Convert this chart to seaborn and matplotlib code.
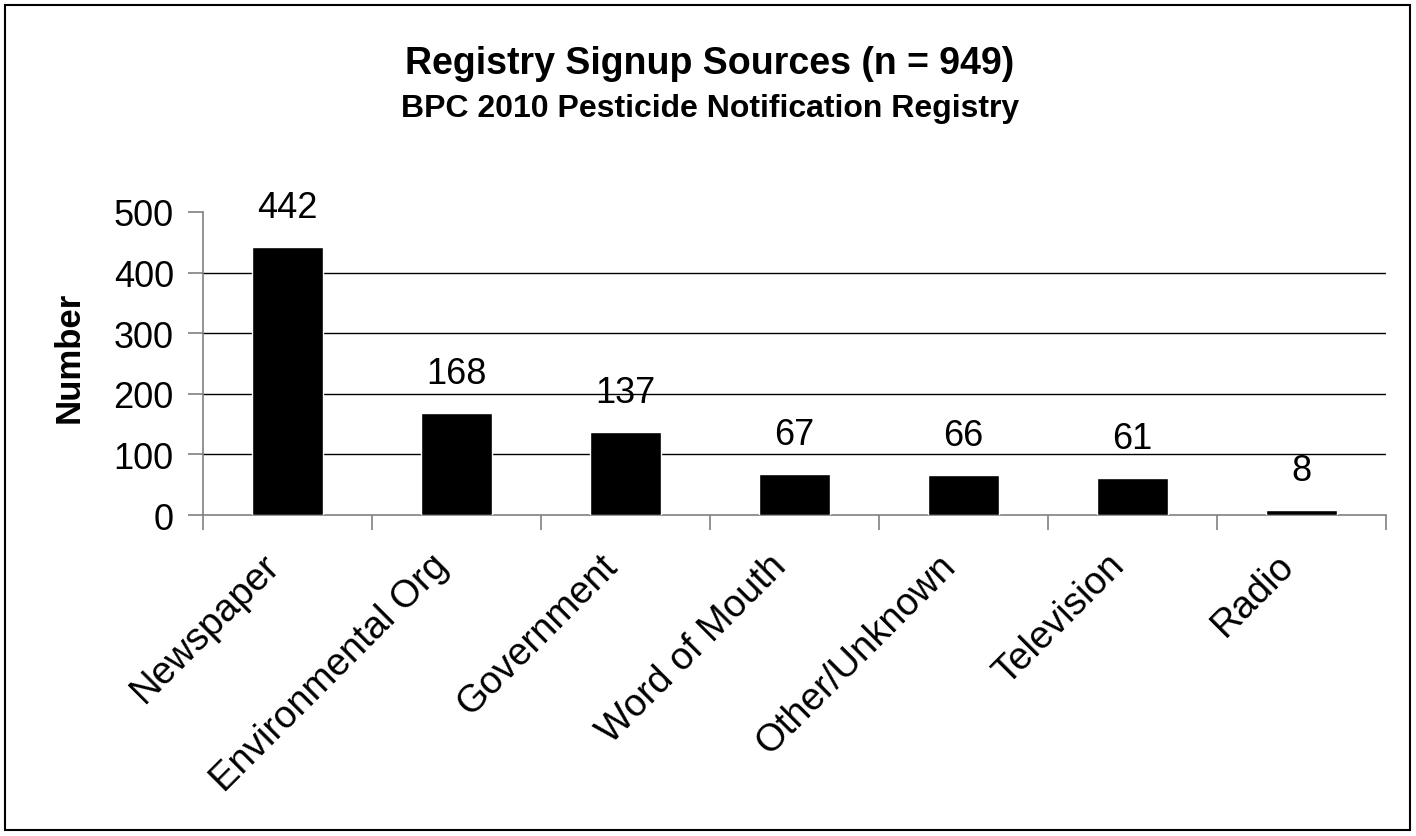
import matplotlib
matplotlib.use('Agg')
import matplotlib.pyplot as plt
import matplotlib.transforms as mtransforms
import seaborn as sns
import pandas as pd
from matplotlib.patches import Rectangle

sources = ["Newspaper", "Environmental Org", "Government", "Word of Mouth",
           "Other/Unknown", "Television", "Radio"]
counts = [442, 168, 137, 67, 66, 61, 8]
y_ticks = [0, 100, 200, 300, 400, 500]

sns.set_style('white')
plt.rcParams['font.family'] = ['Liberation Sans', 'DejaVu Sans']
plt.rcParams['text.color'] = 'black'
plt.rcParams['axes.labelcolor'] = 'black'
plt.rcParams['xtick.color'] = 'black'
plt.rcParams['ytick.color'] = 'black'

df = pd.DataFrame({'source': sources, 'count': counts})

fig = plt.figure(figsize=(14.16, 8.37), dpi=100)
ax = fig.add_axes([203 / 1416, 1 - 516 / 837, (1386 - 203) / 1416, (516 - 213) / 837])

sns.barplot(data=df, x='source', y='count', color='black', width=0.42,
            saturation=1, ax=ax, zorder=3)

ax.set_ylim(0, 500)
ax.set_xlim(-0.5, len(sources) - 0.5)
ax.set_yticks(y_ticks)
ax.tick_params(axis='y', labelsize=26, length=11, color='#808080', width=1.2, pad=10,
               left=True, labelcolor='black')
ax.set_xticks(range(len(sources)))
ax.set_xticklabels(sources, rotation=45, ha='right', va='top', rotation_mode='anchor', fontsize=27.5)
ax.tick_params(axis='x', which='major', length=0, pad=23, labelcolor='black')
ax.set_xticks([i - 0.5 for i in range(len(sources) + 1)], minor=True)
ax.tick_params(axis='x', which='minor', length=11, color='#808080', width=1.2, bottom=True)

# push the slanted labels a bit to the left, like the original
shift = mtransforms.ScaledTranslation(-26 / 100, 0, fig.dpi_scale_trans)
for lbl in ax.get_xticklabels():
    lbl.set_transform(lbl.get_transform() + shift)

for v in y_ticks[1:-1]:
    ax.axhline(v, color='black', lw=1, zorder=1)

for s in ['top', 'right']:
    ax.spines[s].set_visible(False)
for s in ['left', 'bottom']:
    ax.spines[s].set_color('#808080')
    ax.spines[s].set_linewidth(1.2)

for i, v in enumerate(counts):
    ax.annotate(str(v), (i, v), xytext=(0, 16), textcoords='offset points',
                ha='center', va='bottom', fontsize=26, color='black')

ax.set_xlabel('')
ax.set_ylabel('Number', fontsize=25, fontweight='bold')
ax.yaxis.set_label_coords(86 / 1416, 1 - 357 / 837, transform=fig.transFigure)

fig.text(0.5014, 1 - 74 / 837, 'Registry Signup Sources (n = 949)', ha='center', va='baseline',
         fontsize=27, fontweight='bold')
fig.text(0.5014, 1 - 117 / 837, 'BPC 2010 Pesticide Notification Registry', ha='center', va='baseline',
         fontsize=23, fontweight='bold')

fig.patches.append(Rectangle((5 / 1416, 6 / 837), 1405 / 1416, 825 / 837, transform=fig.transFigure,
                             fill=False, edgecolor='black', lw=1.5))

fig.savefig('out.png', dpi=100)
